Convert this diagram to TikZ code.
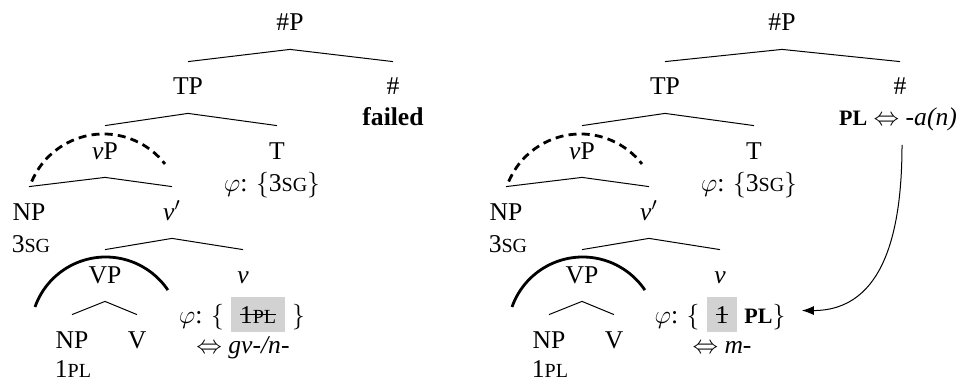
\documentclass[tikz,border=0pt]{standalone}
\usepackage{fix-cm}
\usepackage{fontspec}
\setmainfont{Liberation Serif}
\usetikzlibrary{arrows.meta}
\newcommand{\smc}[1]{{\fontsize{10}{11}\selectfont #1}}
\newcommand{\bsmc}[1]{{\fontsize{11}{12}\selectfont\bfseries #1}}
\newlength{\strklen}
\newcommand{\strk}[1]{\settowidth{\strklen}{#1}\makebox[0pt][l]{\rule[3.9pt]{\strklen}{0.5pt}}#1}
\setlength{\fboxsep}{4.5pt}
\begin{document}
\begin{tikzpicture}[x=0.5pt,y=0.5pt,font=\fontsize{12.8}{15}\selectfont]
\tikzstyle{cat}=[anchor=base,text height=8.5pt,text depth=1pt,inner xsep=1pt,inner ysep=8pt]
\tikzstyle{feat}=[anchor=base,inner sep=1pt]
\tikzstyle{branch}=[line width=0.5pt]
\tikzstyle{dasharc}=[line width=1.4pt,dash pattern=on 4pt off 2.6pt]
\tikzstyle{solidarc}=[line width=1.4pt]
\useasboundingbox (0,0) rectangle (963,381);
\node[cat] (lhP) at (290,350) {\#P};
\node[cat] (lTP) at (188,286) {TP};
\node[cat] (lhash) at (393,286) {\#};
\node[feat] (lfail) at (393,256) {\textbf{failed}};
\node[cat] (lvP) at (105,222) {\textit{v}P};
\node[cat] (lT) at (277,222) {T};
\node[feat] (lphiT) at (272,190) {$\varphi$: $\{$3\smc{SG}$\}$};
\node[cat] (lNP) at (29,161) {NP};
\node[feat] (lsg) at (31,129) {3\smc{SG}};
\node[cat] (lvbar) at (172,161) {\textit{v}$'$};
\node[cat] (lVP) at (105,98) {VP};
\node[cat] (lv) at (243,98) {\textit{v}};
\node[feat] (lphiv) at (242,58) {$\varphi$: $\bigl\{\;$\colorbox{gray!35}{\strk{1\smc{PL}}}$\;\bigr\}$};
\node[feat] (lmorph) at (243,28) {$\Leftrightarrow$ \textit{gv-/n-}};
\node[cat] (lNPb) at (72,33) {NP};
\node[cat] (lV) at (137,33) {V};
\node[feat] (lpl) at (73,4) {1\smc{PL}};
\draw[branch] (lTP.north) -- (lhP.south) -- (lhash.north);
\draw[branch] (lvP.north) -- (lTP.south) -- (lT.north);
\draw[branch] (lNP.north) -- (lvP.south) -- (lvbar.north);
\draw[branch] (lVP.north) -- (lvbar.south) -- (lv.north);
\draw[branch] (lNPb.north) -- (lVP.south) -- (lV.north);
\draw[dasharc] (lvP.base) ++(-1.5,-53) ++(157:78) arc[start angle=157,end angle=38,radius=78];
\draw[solidarc] (lVP.base) ++(0.7,-49) ++(160.5:75) arc[start angle=160.5,end angle=34,radius=75];
\begin{scope}[xshift=238.5pt]
\node[cat] (rhP) at (305,350) {\#P};
\node[cat] (rTP) at (188,286) {TP};
\node[cat] (rhash) at (423,286) {\#};
\node[feat] (rplur) at (421,256) {\bsmc{PL} $\Leftrightarrow$ \textit{-a(n)}};
\node[cat] (rvP) at (105,222) {\textit{v}P};
\node[cat] (rT) at (277,222) {T};
\node[feat] (rphiT) at (272,190) {$\varphi$: $\{$3\smc{SG}$\}$};
\node[cat] (rNP) at (29,161) {NP};
\node[feat] (rsg) at (31,129) {3\smc{SG}};
\node[cat] (rvbar) at (172,161) {\textit{v}$'$};
\node[cat] (rVP) at (105,98) {VP};
\node[cat] (rv) at (243,98) {\textit{v}};
\node[feat] (rphiv) at (243,58) {$\varphi$: $\bigl\{\;$\colorbox{gray!35}{\strk{1}}\;\bsmc{PL}$\bigr\}$};
\node[feat] (rmorph) at (245,28) {$\Leftrightarrow$ \textit{m-}};
\node[cat] (rNPb) at (72,33) {NP};
\node[cat] (rV) at (137,33) {V};
\node[feat] (rpl) at (73,4) {1\smc{PL}};
\draw[branch] (rTP.north) -- (rhP.south) -- (rhash.north);
\draw[branch] (rvP.north) -- (rTP.south) -- (rT.north);
\draw[branch] (rNP.north) -- (rvP.south) -- (rvbar.north);
\draw[branch] (rVP.north) -- (rvbar.south) -- (rv.north);
\draw[branch] (rNPb.north) -- (rVP.south) -- (rV.north);
\draw[dasharc] (rvP.base) ++(-1.5,-53) ++(157:78) arc[start angle=157,end angle=38,radius=78];
\draw[solidarc] (rVP.base) ++(0.7,-49) ++(160.5:75) arc[start angle=160.5,end angle=34,radius=75];
\draw[branch,-{Latex[length=6pt,width=4.5pt]}] ([xshift=2pt,yshift=-6pt]rplur.south) to[out=-90,in=0,looseness=1.1] ([xshift=7pt,yshift=2pt]rphiv.east);
\end{scope}
\end{tikzpicture}
\end{document}
